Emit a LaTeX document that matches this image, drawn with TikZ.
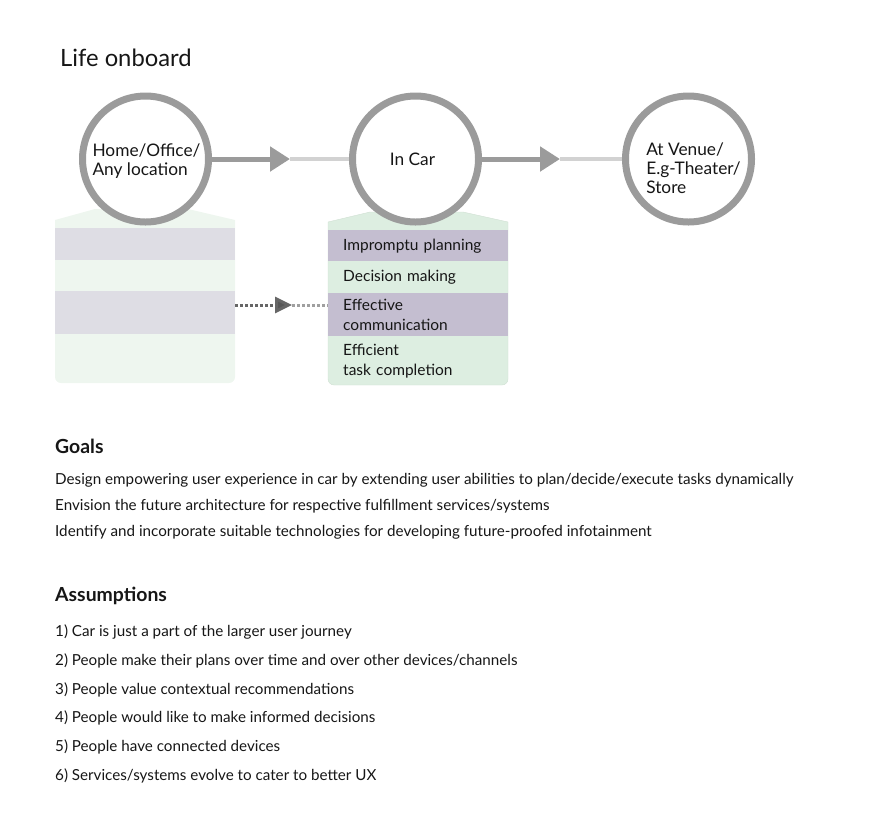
\documentclass[tikz,border=0pt]{standalone}
\usepackage{fontspec}
\setmainfont{Lato}
\usepackage{tikz}
\usetikzlibrary{arrows.meta}
\definecolor{ring}{HTML}{9B9B9B}
\definecolor{faintline}{HTML}{D2D2D2}
\definecolor{ink}{HTML}{161616}
\definecolor{paleg}{HTML}{EEF6EF}
\definecolor{paleb}{HTML}{DEDDE4}
\definecolor{rowg}{HTML}{DDEEE1}
\definecolor{rowb}{HTML}{C4BED0}
\definecolor{dotdark}{HTML}{666666}
\definecolor{dotlight}{HTML}{A0A0A0}
\tikzset{%
	place/.style={circle,draw=ring,line width=7pt,fill=white,minimum size=126pt,
	inner sep=0pt},
	place text/.style={inner sep=0pt,align=left,text=ink,font=\fontsize{17.3}{19}\selectfont},
	row/.style={rectangle,anchor=north west,inner xsep=15pt,inner ysep=0pt,
	text width=150pt,align=left,text=ink,minimum height=#1,
	font=\fontsize{15.5}{20}\selectfont}
}

\begin{document}
\begin{tikzpicture}[x=1pt,y=-1pt,
	step line/.style={draw=ring,line width=5pt,-{Triangle[length=20pt,width=24pt]}},
	rest line/.style={draw=faintline,line width=4pt},
	txt/.style={anchor=base west,inner sep=0pt,text=ink,font=\fontsize{15.2}{17}\selectfont},
	head/.style={anchor=base west,inner sep=0pt,text=ink,font=\fontsize{19.4}{22}\selectfont\bfseries}]
				\useasboundingbox (0,0) rectangle (869,831);
				\node [anchor=base west,inner sep=0pt,text=ink,font=\fontsize{23.8}{26}\selectfont] (title) at (60,66) {Life onboard};
				\fill [paleg] (55,220) -- (95,209) -- (188,209) -- (235,220) [rounded corners=6pt] -- (235,383) -- (55,383) [sharp corners] -- cycle;
				\fill [rowg, draw=rowg!85!black!40!rowg] (328,222) -- (370,212) -- (463,212) -- (508,222) [rounded corners=6pt] -- (508,385) -- (328,385) [sharp corners] -- cycle;
				\node [row=32pt, fill=paleb] (l1) at (55,228) {};
				\node [row=43pt, fill=paleb] (l3) at (55,291) {};
				\node [row=31pt, fill=rowb] (r1) at (328,230) {Impromptu planning};
				\node [row=32pt] (r2) at (328,261) {Decision making};
				\node [row=43pt, fill=rowb] (r3) at (328,293) {Effective\\communication};
				\node [row=49pt] (r4) at (328,336) {Efficient\\task completion};
				\node [place, label={[place text, xshift=1pt, yshift=-2pt]center:Home/Office/\\Any location}] (home) at (145.5,159) {};
				\node [place, label={[place text, xshift=-3pt]center:In Car}] (car) at (415.5,159) {};
				\node [place, label={[place text, xshift=5pt, yshift=-9.5pt]center:At Venue/\\E.g-Theater/\\Store}] (venue) at (688.5,159) {};
				\coordinate (hc) at (290,159);
				\coordinate (cv) at (560,159);
				\coordinate (ds) at (292,305);
				\draw [step line] (home) -- (hc);
				\draw [rest line] (hc) -- (car);
				\draw [step line] (car) -- (cv);
				\draw [rest line] (cv) -- (venue);
				\draw [dotdark, line width=3pt, dash pattern=on 3pt off 2pt, -{Triangle[length=17pt,width=16pt,fill=dotdark!85!black]}] (l3.east |- ds) -- (ds);
				\draw [dotlight, line width=3pt, dash pattern=on 3pt off 2pt] (ds) -- (ds -| r3.west);
				\node [head] (goals) at (55,453) {Goals};
				\node [txt] (g1) at (55,484) {Design empowering user experience in car by extending user abilities to plan/decide/execute tasks dynamically};
				\node [txt] (g2) at (55,510) {Envision the future architecture for respective fulfillment services/systems};
				\node [txt] (g3) at (55,536) {Identify and incorporate suitable technologies for developing future-proofed infotainment};
				\node [head] (assume) at (55,601) {Assumptions};
				\node [txt] (a1) at (55,636) {1) Car is just a part of the larger user journey};
				\node [txt] (a2) at (55,665) {2) People make their plans over time and over other devices/channels};
				\node [txt] (a3) at (55,694) {3) People value contextual recommendations};
				\node [txt] (a4) at (55,722) {4) People would like to make informed decisions};
				\node [txt] (a5) at (55,751) {5) People have connected devices};
				\node [txt] (a6) at (55,780) {6) Services/systems evolve to cater to better UX};
			\end{tikzpicture}
\end{document}
